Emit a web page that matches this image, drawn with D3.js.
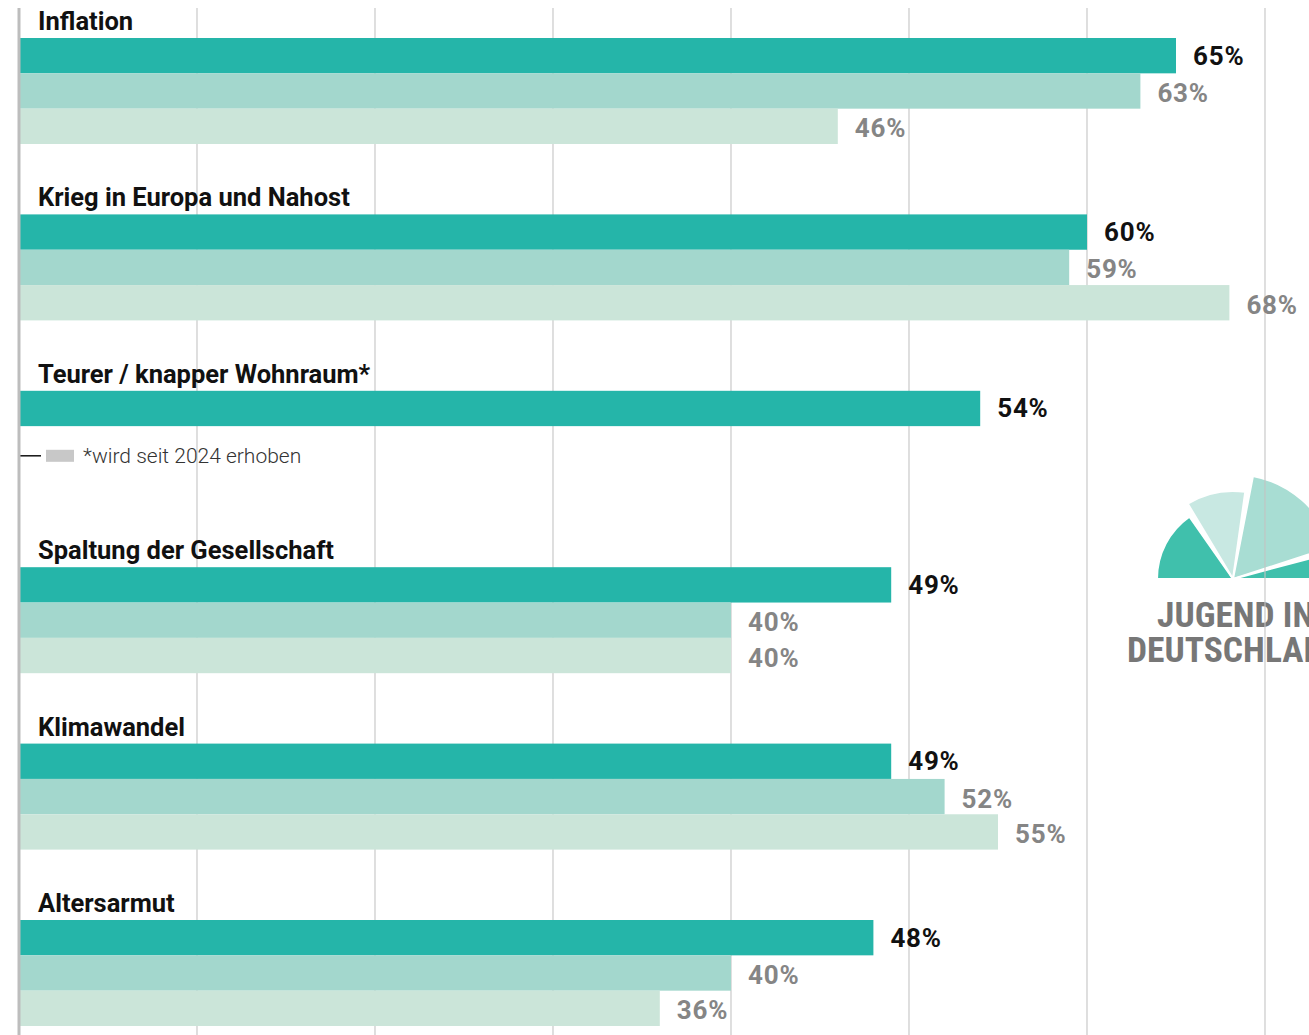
<!DOCTYPE html>
<html><head><meta charset="utf-8">
<script src="https://cdn.jsdelivr.net/npm/d3@7"></script>
<style>
html,body{margin:0;padding:0;background:#fff;overflow:hidden}
svg{display:block}
</style></head>
<body>
<svg id="chart" width="1309" height="1035"></svg>
<script>
const categories = ["Inflation","Krieg in Europa und Nahost","Teurer / knapper Wohnraum*","Spaltung der Gesellschaft","Klimawandel","Altersarmut"];
const seriesNames = ["2024","2023","2022"];
const values2024 = [65,60,54,49,49,48];
const values2023 = [63,59,null,40,52,40];
const values2022 = [46,68,null,40,55,36];
const xTicks = [0,10,20,30,40,50,60,70];
const footnote = "*wird seit 2024 erhoben";
const logoLines = ["JUGEND IN","DEUTSCHLAND"];

const seriesValues = [values2024, values2023, values2022];
const colors = ["#25b5a9","#a3d7cd","#cbe5d9"];
const labelColors = ["#111","#858585","#858585"];

const svg = d3.select("#chart");
const W = 1309, H = 1035;
const x = d3.scaleLinear().domain([0,70]).range([19,1265]);
const groupStep = 176.4;
const y0 = d3.scaleBand().domain(categories).range([38, 38 + groupStep*categories.length]).paddingInner(0).paddingOuter(0);
const y1 = d3.scaleBand().domain(seriesNames).range([0, 106]);

// Logo (behind gridlines)
const logo = svg.append("g").attr("transform","translate(1233,579)");
const wedges = [
  {s:-90,e:-35,r:76,c:"#40c0ac"},
  {s:-31,e:8,r:88,c:"#c8e8e2"},
  {s:11,e:72,r:105,c:"#a8ddd3"},
  {s:75,e:90,r:100,c:"#40c0ac"}
];
const arc = d3.arc().innerRadius(0);
logo.selectAll("path").data(wedges).join("path")
  .attr("d", d => arc({outerRadius:d.r,startAngle:d.s*Math.PI/180,endAngle:d.e*Math.PI/180}))
  .attr("fill", d => d.c).attr("stroke","#fff").attr("stroke-width",2).attr("stroke-linejoin","round");
const logoFont = "'Liberation Sans Narrow','Roboto Condensed','Roboto',sans-serif";
svg.append("text").attr("x",1157).attr("y",627).text(logoLines[0])
  .attr("font-family",logoFont).attr("font-weight",700)
  .attr("font-size",35.5).attr("fill","#777");
svg.append("text").attr("x",1127).attr("y",662).text(logoLines[1])
  .attr("font-family",logoFont).attr("font-weight",700)
  .attr("font-size",35.5).attr("fill","#777");

// Gridlines
svg.append("g").selectAll("line").data(xTicks.slice(1)).join("line")
  .attr("x1",d=>x(d)).attr("x2",d=>x(d)).attr("y1",8).attr("y2",H)
  .attr("stroke","#c4c4c4").attr("stroke-width",1.2).attr("opacity",0.9);

// Bars
const groups = svg.append("g").selectAll("g").data(categories).join("g")
  .attr("transform", d => `translate(0,${y0(d)})`);

groups.each(function(cat, ci){
  const g = d3.select(this);
  const rows = seriesNames.map((s,si)=>({s, si, v: seriesValues[si][ci]})).filter(r=>r.v!=null);
  g.selectAll("rect").data(rows).join("rect")
    .attr("x", x(0)).attr("y", r => y1(r.s)).attr("height", y1.bandwidth())
    .attr("width", r => x(r.v) - x(0)).attr("fill", r => colors[r.si]);
  g.selectAll("text.val").data(rows).join("text").attr("class","val")
    .attr("x", r => x(r.v) + 17).attr("y", r => y1(r.s) + y1.bandwidth()/2 + (r.si===0?9:11))
    .text(r => r.v + "%")
    .attr("font-family","Roboto, sans-serif").attr("font-weight",700).attr("font-size",26)
    .attr("letter-spacing",0.8)
    .attr("fill", r => labelColors[r.si]);
  g.append("text").attr("x",38).attr("y",-8).text(cat)
    .attr("font-family","Roboto, sans-serif").attr("font-weight",700).attr("font-size",25.5)
    .attr("fill","#111");
});

// Footnote
const fy = y0(categories[2]) + 65;
svg.append("line").attr("x1",19).attr("x2",41).attr("y1",fy).attr("y2",fy).attr("stroke","#111").attr("stroke-width",1.5);
svg.append("rect").attr("x",46).attr("y",fy-6).attr("width",28).attr("height",12).attr("fill","#c8c8c8");
svg.append("text").attr("x",83).attr("y",fy+7).text(footnote)
  .attr("font-family","Roboto, sans-serif").attr("font-weight",300).attr("font-size",21).attr("fill","#333");

// Left axis line
svg.append("line").attr("x1",x(0)).attr("x2",x(0)).attr("y1",8).attr("y2",H)
  .attr("stroke","#bdbdbd").attr("stroke-width",3);
</script>
</body></html>
